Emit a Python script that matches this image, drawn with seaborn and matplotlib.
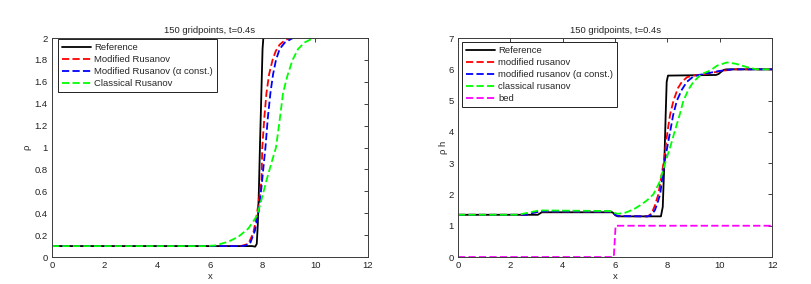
import matplotlib
matplotlib.use("Agg")
import matplotlib.pyplot as plt
import seaborn as sns
import pandas as pd

# ---------------- Left panel: rho ----------------
title_text = "150 gridpoints, t=0.4s"

left_ref_x = [0, 7.6, 7.72, 7.78, 7.82, 7.86, 7.9, 7.95, 8.0, 8.03]
left_ref_y = [0.1, 0.1, 0.095, 0.12, 0.3, 0.6, 1.0, 1.45, 1.9, 2.0]

left_mod_x = [0, 7.0, 7.2, 7.46, 7.65, 7.77, 7.9, 7.96, 7.99, 8.07, 8.15, 8.25, 8.38, 8.5, 8.65, 8.85, 9.05]
left_mod_y = [0.1, 0.1, 0.102, 0.12, 0.22, 0.37, 0.58, 0.70, 1.0, 1.28, 1.5, 1.67, 1.8, 1.88, 1.94, 1.98, 2.0]

left_alpha_x = [0, 7.0, 7.3, 7.52, 7.71, 7.84, 7.96, 8.05, 8.11, 8.2, 8.3, 8.4, 8.51, 8.65, 8.85, 9.15]
left_alpha_y = [0.1, 0.1, 0.102, 0.12, 0.24, 0.40, 0.64, 0.86, 1.0, 1.27, 1.5, 1.67, 1.8, 1.9, 1.96, 2.0]

left_class_x = [0, 5.8, 6.19, 6.7, 7.08, 7.46, 7.77, 7.9, 8.15, 8.35, 8.51, 8.65, 8.78, 8.95, 9.14, 9.35, 9.6, 9.85, 10.0]
left_class_y = [0.1, 0.1, 0.105, 0.14, 0.185, 0.26, 0.37, 0.47, 0.70, 0.87, 1.0, 1.25, 1.5, 1.66, 1.8, 1.9, 1.96, 1.99, 2.0]

left_labels = ["Reference", "Modified Rusanov", "Modified Rusanov (\u03b1 const.)", "Classical Rusanov"]

# ---------------- Right panel: rho h ----------------
right_ref_x = [0, 3.05, 3.2, 5.9, 6.02, 6.1, 7.75, 7.82, 7.88, 7.93, 7.97, 8.02, 9.85, 9.95, 10.05, 10.15, 10.25, 12]
right_ref_y = [1.35, 1.35, 1.43, 1.43, 1.33, 1.3, 1.3, 1.6, 3.0, 4.5, 5.6, 5.8, 5.82, 5.85, 5.92, 5.98, 6.0, 6.0]

right_mod_x = [0, 2.6, 2.9, 3.2, 5.85, 6.0, 6.1, 7.25, 7.4, 7.52, 7.65, 7.85, 8.0, 8.1, 8.23, 8.4, 8.55, 8.75, 9.0, 9.5, 10.0, 10.5, 12]
right_mod_y = [1.35, 1.35, 1.42, 1.46, 1.45, 1.35, 1.31, 1.3, 1.4, 1.65, 2.0, 3.0, 4.0, 4.55, 5.0, 5.4, 5.6, 5.75, 5.8, 5.86, 5.94, 6.0, 6.0]

right_alpha_x = [0, 2.6, 2.9, 3.2, 5.85, 6.0, 6.1, 7.25, 7.4, 7.52, 7.6, 7.72, 7.88, 8.1, 8.22, 8.36, 8.55, 8.74, 9.0, 9.5, 10.0, 10.5, 12]
right_alpha_y = [1.35, 1.35, 1.42, 1.46, 1.45, 1.35, 1.31, 1.3, 1.35, 1.5, 1.68, 2.0, 3.0, 4.0, 4.55, 5.0, 5.35, 5.6, 5.78, 5.87, 5.95, 6.0, 6.0]

right_class_x = [0, 2.3, 2.7, 3.1, 5.8, 5.95, 6.1, 6.4, 6.7, 6.95, 7.2, 7.46, 7.7, 7.91, 8.1, 8.27, 8.45, 8.61, 8.8, 8.99, 9.3, 9.63, 9.9, 10.27, 10.6, 11.0, 11.4, 12]
right_class_y = [1.35, 1.35, 1.42, 1.49, 1.47, 1.42, 1.38, 1.42, 1.52, 1.65, 1.8, 2.0, 2.4, 3.0, 3.5, 4.0, 4.5, 5.0, 5.35, 5.6, 5.85, 5.96, 6.12, 6.22, 6.18, 6.08, 6.0, 6.0]

right_bed_x = [0, 5.95, 6.02, 12]
right_bed_y = [0, 0, 1.0, 1.0]

right_labels = ["Reference", "modified rusanov", "modified rusanov (\u03b1 const.)", "classical rusanov", "bed"]

# ---------------- styling ----------------
sns.set_style("white")
plt.rcParams["font.family"] = ["Liberation Sans", "DejaVu Sans"]
plt.rcParams["axes.edgecolor"] = "#3a3a3a"
plt.rcParams["axes.linewidth"] = 0.7
plt.rcParams["xtick.direction"] = "in"
plt.rcParams["ytick.direction"] = "in"

FS = 6.8
LW = 1.3
DASH = (4.0, 1.8)

colors = ["#000000", "#ff0000", "#0000ff", "#00ff00", "#ff00ff"]

fig = plt.figure(figsize=(8.12, 2.84), dpi=100)
axL = fig.add_axes([0.064, 0.095, 0.389, 0.771])
axR = fig.add_axes([0.564, 0.095, 0.387, 0.771])


def draw(ax, xs, ys, color, label, dashed):
    df = pd.DataFrame({"x": xs, "y": ys})
    sns.lineplot(data=df, x="x", y="y", ax=ax, color=color, lw=LW,
                 label=label, sort=False, estimator=None)
    line = ax.get_lines()[-1]
    if dashed:
        line.set_dashes(DASH)


left_series = [(left_ref_x, left_ref_y), (left_mod_x, left_mod_y),
               (left_alpha_x, left_alpha_y), (left_class_x, left_class_y)]
for i, (xs, ys) in enumerate(left_series):
    draw(axL, xs, ys, colors[i], left_labels[i], i > 0)

right_series = [(right_ref_x, right_ref_y), (right_mod_x, right_mod_y),
                (right_alpha_x, right_alpha_y), (right_class_x, right_class_y),
                (right_bed_x, right_bed_y)]
for i, (xs, ys) in enumerate(right_series):
    draw(axR, xs, ys, colors[i], right_labels[i], i > 0)

panels = [
    (axL, "\u03c1", (0, 2), [0, 0.2, 0.4, 0.6, 0.8, 1.0, 1.2, 1.4, 1.6, 1.8, 2.0],
     ["0", "0.2", "0.4", "0.6", "0.8", "1", "1.2", "1.4", "1.6", "1.8", "2"],
     2.5, (6 / 316, 1 - 1.3 / 219)),
    (axR, "\u03c1 h", (0, 7), list(range(8)), [str(v) for v in range(8)],
     0.5, (4 / 314, 1 - 4 / 219)),
]
for ax, ylab, ylim, yticks, yticklabels, lpad, anchor in panels:
    ax.set_xlim(0, 12)
    ax.set_ylim(*ylim)
    ax.set_xticks([0, 2, 4, 6, 8, 10, 12])
    ax.set_xticklabels(["0", "2", "4", "6", "8", "10", "12"], fontsize=FS)
    ax.set_yticks(yticks)
    ax.set_yticklabels(yticklabels, fontsize=FS)
    ax.tick_params(top=True, right=True, length=3, width=0.6, pad=3, colors="#222222")
    ax.set_xlabel("x", fontsize=FS, labelpad=1)
    ax.set_ylabel(ylab, fontsize=FS, labelpad=lpad)
    ax.set_title(title_text, fontsize=FS, pad=4)
    for s in ax.spines.values():
        s.set_visible(True)
    leg = ax.legend(loc="upper left", bbox_to_anchor=anchor, borderaxespad=0,
                    fontsize=FS, frameon=True, fancybox=False,
                    edgecolor="#222222", framealpha=1, handlelength=3.15,
                    handletextpad=0.3, borderpad=0.4, labelspacing=0.33)
    leg.get_frame().set_linewidth(0.7)

fig.savefig("out.png", dpi=100, facecolor="white")
